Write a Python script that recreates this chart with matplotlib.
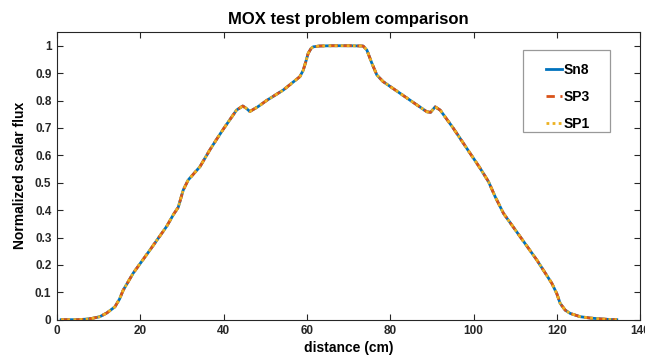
import matplotlib
matplotlib.use("Agg")
import matplotlib.pyplot as plt
from matplotlib.patches import Rectangle

plt.rcParams['font.family'] = ['Liberation Sans', 'DejaVu Sans']

distance = [1, 3, 5, 7, 8.5, 10.3, 12, 13.9, 15.0, 15.9, 18.3, 20.3, 22.3, 24.3, 26.3,
            28.0, 29.1, 30.3, 31.5, 34.3, 36.7, 38.3, 39.9, 41.5, 43.1, 44.6, 45.4, 46.3,
            48.3, 50.3, 54.3, 58.3, 59.1, 59.7, 60.3, 61.0, 61.5, 63, 66, 70.3, 73.5, 74.4,
            75.6, 76.8, 78.3, 82.4, 86.4, 88.8, 89.7, 90.8, 92.0, 95.1, 99.2, 101.5, 103.6,
            105.2, 107.2, 111.2, 115.2, 118.8, 120.0, 120.8, 122.0, 123.2, 125.6, 128,
            130.4, 132.5, 134.4]
flux = [0.0, 0.0, 0.0, 0.002, 0.005, 0.011, 0.025, 0.047, 0.075, 0.108, 0.17, 0.212,
        0.254, 0.297, 0.34, 0.385, 0.41, 0.473, 0.51, 0.558, 0.62, 0.658, 0.695, 0.73,
        0.765, 0.78, 0.772, 0.76, 0.778, 0.80, 0.838, 0.887, 0.91, 0.94, 0.972, 0.99,
        0.996, 0.999, 1.0, 1.0, 0.999, 0.984, 0.936, 0.893, 0.869, 0.826, 0.784, 0.759,
        0.757, 0.777, 0.765, 0.70, 0.607, 0.555, 0.504, 0.449, 0.388, 0.303, 0.218,
        0.133, 0.095, 0.06, 0.035, 0.023, 0.011, 0.006, 0.003, 0.001, 0.0]

series_names = ["Sn8", "SP3", "SP1"]
series_colors = ["#0072BD", "#D95319", "#EDB120"]
series_styles = ["-", (0, (3, 2)), (0, (1, 1.2))]

fig = plt.figure(figsize=(6.45, 3.56), dpi=100)
ax = fig.add_axes([0.0884, 0.102, 0.904, 0.808])

for name, c, ls in zip(series_names, series_colors, series_styles):
    ax.plot(distance, flux, color=c, linestyle=ls, linewidth=2.0, label=name)

ax.set_xlim(0, 140)
ax.set_ylim(0, 1.05)
ax.set_xticks(range(0, 141, 20))
ax.set_yticks([i / 10 for i in range(11)])
ax.set_yticklabels(["0", "0.1", "0.2", "0.3", "0.4", "0.5", "0.6", "0.7", "0.8", "0.9", "1"])

ax.tick_params(direction='in', top=True, right=True, length=4, width=0.8,
               labelsize=8.5, colors='#262626', pad=4)
for lab in ax.get_xticklabels() + ax.get_yticklabels():
    lab.set_fontweight('bold')
for s in ax.spines.values():
    s.set_color('#262626')
    s.set_linewidth(0.8)

ax.set_xlabel("distance (cm)", fontsize=10, fontweight='bold', labelpad=3)
ax.set_ylabel("Normalized scalar flux", fontsize=10, fontweight='bold', labelpad=6)
ax.set_title("MOX test problem comparison", fontsize=12, fontweight='bold', pad=6)

# legend frame drawn separately for exact placement
ax.add_patch(Rectangle((0.799, 0.652), 0.1495, 0.2855, transform=ax.transAxes,
                       facecolor='white', edgecolor='#999999', linewidth=0.9, zorder=4))
leg = ax.legend(loc='upper left', bbox_to_anchor=(0.826, 0.918), fontsize=10,
                handlelength=1.2, handletextpad=0.1, labelspacing=0.95,
                borderpad=0.0, frameon=False)
leg.set_zorder(5)
for t in leg.get_texts():
    t.set_fontweight('bold')

fig.savefig("out.png", dpi=100)
